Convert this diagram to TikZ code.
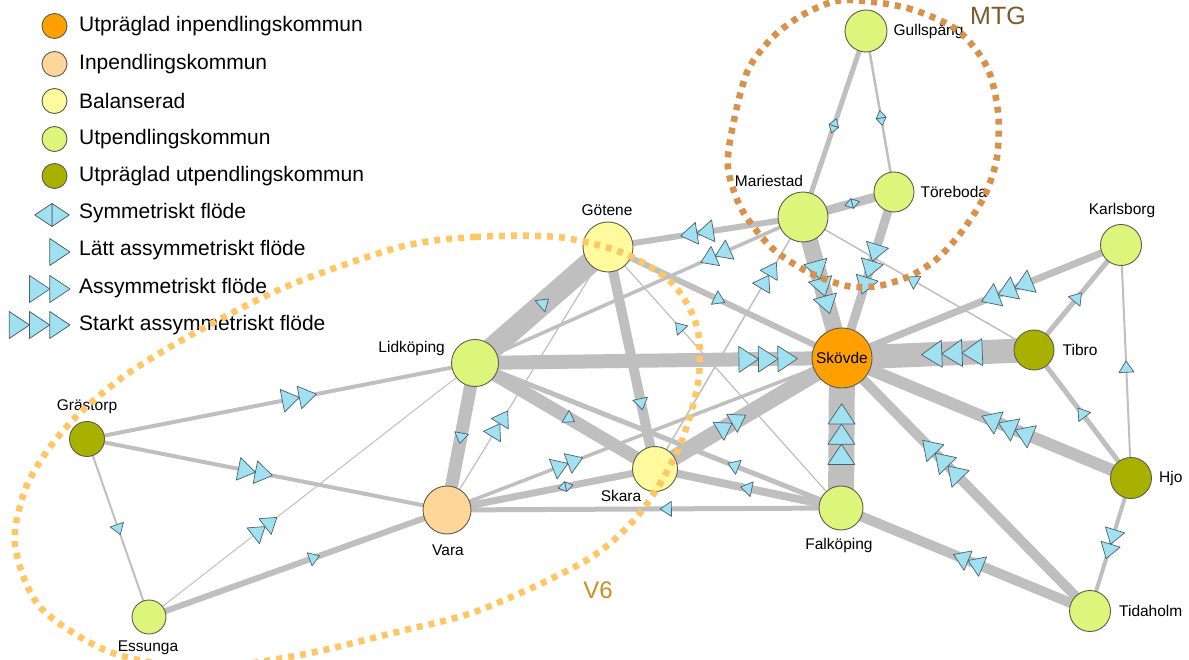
\documentclass[tikz,border=0pt]{standalone}
\usepackage{fontspec}
\setmainfont{Liberation Sans}
\usetikzlibrary{positioning, decorations.markings}
\pgfdeclarelayer{bg}
\pgfsetlayers{bg,main}

\definecolor{starkin}{HTML}{FFA000}
\definecolor{inp}{HTML}{FFD699}
\definecolor{bal}{HTML}{FFFA9E}
\definecolor{utp}{HTML}{DDF57B}
\definecolor{starkut}{HTML}{A9B100}
\definecolor{nodeline}{HTML}{5C5C4C}
\definecolor{kant}{HTML}{BFBFBF}
\definecolor{flodfarg}{HTML}{9FE1F0}
\definecolor{trikant}{HTML}{4D5F6B}
\definecolor{vsex}{HTML}{FFC665}
\definecolor{mtgc}{HTML}{D8914A}
\definecolor{mtgtext}{HTML}{7A5A2C}
\definecolor{vsextext}{HTML}{C68F1E}

% #1 = antal trianglar (0 = symmetriskt), #2 = basbredd
\newcommand{\flowtris}[2]{%
  \ifnum#1=0\relax
    \draw[flodtri] (0,{#2/2}) -- ({0.75*#2},0) -- (0,{-#2/2}) -- cycle;
    \draw[flodtri] (0,{#2/2}) -- ({-0.75*#2},0) -- (0,{-#2/2}) -- cycle;
  \else
    \foreach \k in {1,...,#1}{
      \draw[flodtri] ({(\k-(#1+1)/2)*0.75*#2 + 0.5*#2},0) -- ++({-0.75*#2},{#2/2}) -- ++(0,{-#2}) -- cycle;
    }
  \fi}

\tikzset{
  kommun/.style={circle, draw=nodeline, line width=0.9pt, inner sep=0pt},
  lbl/.style={inner sep=0pt, font=\fontsize{15.5}{18}\selectfont},
  legtext/.style={inner sep=0pt, anchor=west, font=\fontsize{21}{25}\selectfont},
  pendlink/.style={draw=kant},
  flodtri/.style={fill=flodfarg, draw=trikant, line width=0.7pt, line join=round},
  flowmark/.style n args={3}{postaction={decorate, decoration={markings, mark=at position #1 with {\flowtris{#2}{#3}}}}},
  loopline/.style={line width=6.5pt, dash pattern=on 6pt off 6pt},
}

\begin{document}
\begin{tikzpicture}[x=1pt, y=-1pt]
	\useasboundingbox (0,0) rectangle (1189,660);
	\clip (0,0) rectangle (1189,660);

	% kommuner
	\node[kommun, fill=utp, minimum size=42pt] (gul) at (866,31) {};
	\node[kommun, fill=utp, minimum size=40pt] (tor) at (894,192) {};
	\node[kommun, fill=utp, minimum size=50pt] (mar) at (803,217) {};
	\node[kommun, fill=bal, minimum size=50pt] (got) at (608,247) {};
	\node[kommun, fill=utp, minimum size=41pt] (kar) at (1121,245) {};
	\node[kommun, fill=starkut, minimum size=40pt] (tib) at (1034,350) {};
	\node[kommun, fill=starkin, minimum size=60pt, font=\fontsize{15.5}{18}\selectfont] (skv) at (842,358) {Skövde};
	\node[kommun, fill=starkut, minimum size=41pt] (hjo) at (1131,478) {};
	\node[kommun, fill=utp, minimum size=41pt] (tid) at (1090,611) {};
	\node[kommun, fill=utp, minimum size=44pt] (fal) at (841,508) {};
	\node[kommun, fill=utp, minimum size=47pt] (lid) at (475,363) {};
	\node[kommun, fill=bal, minimum size=45pt] (ska) at (655,469) {};
	\node[kommun, fill=inp, minimum size=48pt] (var) at (447,510) {};
	\node[kommun, fill=starkut, minimum size=35pt] (gra) at (87,439) {};
	\node[kommun, fill=utp, minimum size=34pt] (ess) at (149,617) {};

	\node[lbl, right=6pt of gul] (gul-t) {Gullspång};
	\node[lbl, right=6pt of tor] (tor-t) {Töreboda};
	\node[lbl] (mar-t) at (769,181) {Mariestad};
	\node[lbl] (got-t) at (607,210) {Götene};
	\node[lbl] (kar-t) at (1122,210) {Karlsborg};
	\node[lbl, right=8pt of tib] (tib-t) {Tibro};
	\node[lbl, anchor=east] (lid-t) at (445,348) {Lidköping};
	\node[lbl] (gra-t) at (87,407) {Grästorp};
	\node[lbl, right=7pt of hjo] (hjo-t) {Hjo};
	\node[lbl] (ska-t) at (621,496) {Skara};
	\node[lbl] (var-t) at (448,550) {Vara};
	\node[lbl] (fal-t) at (839,545) {Falköping};
	\node[lbl, right=8pt of tid] (tid-t) {Tidaholm};
	\node[lbl] (ess-t) at (148,648) {Essunga};

	% pendlingsflöden
	\begin{pgfonlayer}{bg}
	\draw[pendlink, line width=5pt, flowmark={0.51}{0}{10}] (gul.center) -- (mar.center);
	\draw[pendlink, line width=2.5pt, flowmark={0.54}{0}{10}] (gul.center) -- (tor.center);
	\draw[pendlink, line width=9pt, flowmark={0.54}{0}{10}] (mar.center) -- (tor.center);
	\draw[pendlink, line width=6pt, flowmark={0.53}{2}{22}] (mar.center) -- (got.center);
	\draw[pendlink, line width=3.5pt, flowmark={0.26}{2}{21}] (mar.center) -- (lid.center);
	\draw[pendlink, line width=1.5pt, flowmark={0.76}{2}{20}] (ska.center) -- (mar.center);
	\draw[pendlink, line width=17pt, flowmark={0.48}{3}{24}] (mar.center) -- (skv.center);
	\draw[pendlink, line width=1.5pt, flowmark={0.52}{1}{15}] (tib.center) -- (mar.center);
	\draw[pendlink, line width=9pt, flowmark={0.45}{3}{23}] (tor.center) -- (skv.center);
	\draw[pendlink, line width=22pt, flowmark={0.51}{1}{15}] (lid.center) -- (got.center);
	\draw[pendlink, line width=6pt, flowmark={0.47}{1}{15}] (got.center) -- (skv.center);
	\draw[pendlink, line width=10pt, flowmark={0.70}{1}{15}] (got.center) -- (ska.center);
	\draw[pendlink, line width=1.2pt, flowmark={0.69}{1}{14}] (fal.center) -- (got.center);
	\draw[pendlink, line width=1.2pt, flowmark={0.32}{2}{20}] (var.center) -- (got.center);
	\draw[pendlink, line width=14pt, flowmark={0.79}{3}{26}] (lid.center) -- (skv.center);
	\draw[pendlink, line width=13pt, flowmark={0.50}{1}{14}] (lid.center) -- (var.center);
	\draw[pendlink, line width=13pt, flowmark={0.52}{1}{14}] (lid.center) -- (ska.center);
	\draw[pendlink, line width=5pt, flowmark={0.29}{1}{15}] (fal.center) -- (lid.center);
	\draw[pendlink, line width=4pt, flowmark={0.54}{2}{23}] (gra.center) -- (lid.center);
	\draw[pendlink, line width=1pt, flowmark={0.35}{2}{20}] (ess.center) -- (lid.center);
	\draw[pendlink, line width=4pt, flowmark={0.46}{2}{23}] (gra.center) -- (var.center);
	\draw[pendlink, line width=2pt, flowmark={0.50}{1}{14}] (gra.center) -- (ess.center);
	\draw[pendlink, line width=6pt, flowmark={0.55}{1}{14}] (ess.center) -- (var.center);
	\draw[pendlink, line width=7pt, flowmark={0.57}{0}{10}] (var.center) -- (ska.center);
	\draw[pendlink, line width=3.5pt, flowmark={0.30}{2}{21}] (var.center) -- (skv.center);
	\draw[pendlink, line width=5pt, flowmark={0.44}{1}{15}] (fal.center) -- (var.center);
	\draw[pendlink, line width=16pt, flowmark={0.40}{2}{21}] (ska.center) -- (skv.center);
	\draw[pendlink, line width=8pt, flowmark={0.50}{1}{15}] (fal.center) -- (ska.center);
	\draw[pendlink, line width=26pt, flowmark={0.47}{3}{27}] (fal.center) -- (skv.center);
	\draw[pendlink, line width=24pt, flowmark={0.41}{3}{27}] (tib.center) -- (skv.center);
	\draw[pendlink, line width=7pt, flowmark={0.40}{3}{24}] (kar.center) -- (skv.center);
	\draw[pendlink, line width=12pt, flowmark={0.42}{3}{24}] (hjo.center) -- (skv.center);
	\draw[pendlink, line width=10pt, flowmark={0.59}{3}{24}] (tid.center) -- (skv.center);
	\draw[pendlink, line width=5pt, flowmark={0.49}{1}{15}] (tib.center) -- (kar.center);
	\draw[pendlink, line width=5pt, flowmark={0.50}{1}{15}] (hjo.center) -- (tib.center);
	\draw[pendlink, line width=2pt, flowmark={0.47}{1}{15}] (hjo.center) -- (kar.center);
	\draw[pendlink, line width=4pt, flowmark={0.48}{2}{20}] (hjo.center) -- (tid.center);
	\draw[pendlink, line width=10pt, flowmark={0.48}{2}{21}] (tid.center) -- (fal.center);
	\end{pgfonlayer}

	% teckenförklaring
	\node[kommun, fill=starkin, minimum size=25pt] (leg-a) at (54.5,26) {};
	\node[legtext] (leg-a-t) at (79,26) {Utpräglad inpendlingskommun};
	\node[kommun, fill=inp, minimum size=25pt] (leg-b) at (54.5,64) {};
	\node[legtext] (leg-b-t) at (79,64) {Inpendlingskommun};
	\node[kommun, fill=bal, minimum size=25pt] (leg-c) at (54.5,101) {};
	\node[legtext] (leg-c-t) at (79,101) {Balanserad};
	\node[kommun, fill=utp, minimum size=25pt] (leg-d) at (54.5,139) {};
	\node[legtext] (leg-d-t) at (79,139) {Utpendlingskommun};
	\node[kommun, fill=starkut, minimum size=25pt] (leg-e) at (54.5,176) {};
	\node[legtext] (leg-e-t) at (79,176) {Utpräglad utpendlingskommun};

	\begin{scope}[shift={(52,215)}] \flowtris{0}{23} \end{scope}
	\node[legtext] (leg-f-t) at (79,213) {Symmetriskt flöde};
	\begin{scope}[shift={(56.5,252)}] \flowtris{1}{27} \end{scope}
	\node[legtext] (leg-g-t) at (79,250) {Lätt assymmetriskt flöde};
	\begin{scope}[shift={(46.4,289)}] \flowtris{2}{27} \end{scope}
	\node[legtext] (leg-h-t) at (79,288) {Assymmetriskt flöde};
	\begin{scope}[shift={(36.25,325)}] \flowtris{3}{27} \end{scope}
	\node[legtext] (leg-i-t) at (79,325) {Starkt assymmetriskt flöde};

	% regioner
	\draw[loopline, draw=vsex] plot[smooth cycle] coordinates {(400,247) (475,237) (557,237) (623,253) (672,283) (697,327) (698,383) (678,450) (640,513) (587,560) (480,610) (397,632) (300,655) (200,668) (110,652) (40,607) (15,545) (25,490) (50,447) (83,410) (130,372) (200,330) (290,285)};
	\draw[loopline, draw=mtgc] plot[smooth cycle] coordinates {(845,0) (907,8) (957,30) (987,67) (998,112) (997,157) (985,195) (963,230) (938,258) (910,276) (878,286) (847,286) (808,272) (772,248) (742,210) (728,168) (733,125) (748,70) (775,35) (808,12)};

	\node[text=mtgtext, font=\fontsize{25}{30}\selectfont, inner sep=0pt] (mtg-t) at (998,16) {MTG};
	\node[text=vsextext, font=\fontsize{24}{28}\selectfont, inner sep=0pt] (v6-t) at (598,590) {V6};
\end{tikzpicture}
\end{document}
